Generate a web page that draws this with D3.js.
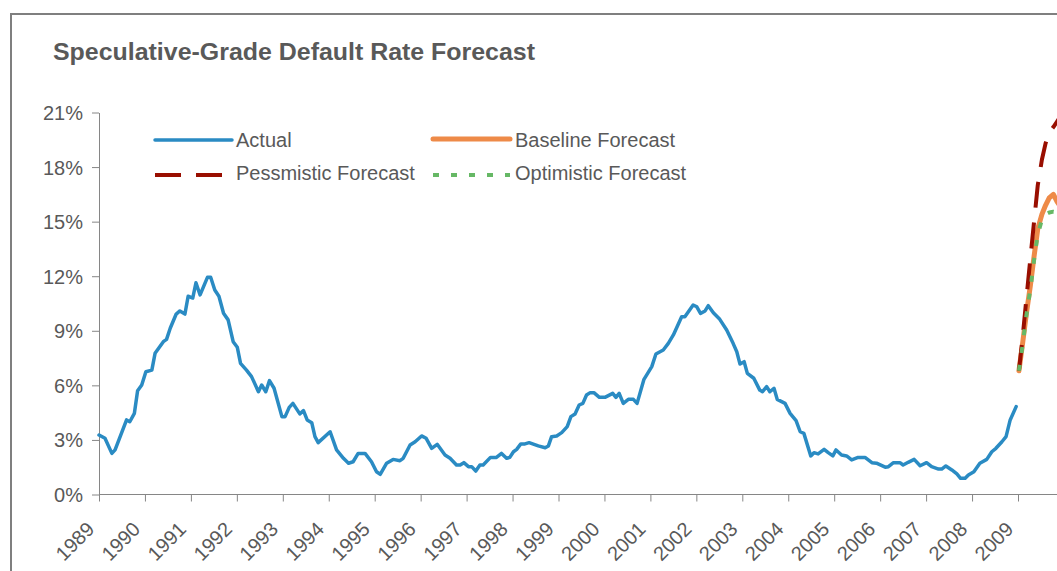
<!DOCTYPE html>
<html>
<head>
<meta charset="utf-8">
<script src="https://cdn.jsdelivr.net/npm/d3@7"></script>
<style>
  html, body { margin: 0; padding: 0; background: #ffffff; }
  svg { display: block; font-family: "Liberation Sans", Arial, sans-serif; }
</style>
</head>
<body>
<div id="chart"></div>
<script>
// ---- data ----
var yearTicks = [1989, 1990, 1991, 1992, 1993, 1994, 1995, 1996, 1997, 1998, 1999,
                 2000, 2001, 2002, 2003, 2004, 2005, 2006, 2007, 2008, 2009];
var rateTicks = [0, 3, 6, 9, 12, 15, 18, 21];

var actualDates = [
  1989.00, 1989.13, 1989.28, 1989.35, 1989.60, 1989.67, 1989.77, 1989.84, 1989.93,
  1990.02, 1990.15, 1990.22, 1990.40, 1990.47, 1990.55, 1990.68, 1990.76, 1990.87, 1990.94,
  1991.04, 1991.11, 1991.20, 1991.36, 1991.43, 1991.52, 1991.61, 1991.71, 1991.81, 1991.92,
  1992.01, 1992.08, 1992.21, 1992.32, 1992.47, 1992.54, 1992.63, 1992.71, 1992.81, 1992.98,
  1993.05, 1993.14, 1993.22, 1993.37, 1993.45, 1993.53, 1993.63, 1993.70, 1993.77,
  1994.03, 1994.17, 1994.32, 1994.43, 1994.53, 1994.64, 1994.79, 1994.93,
  1995.04, 1995.12, 1995.26, 1995.40, 1995.55, 1995.62, 1995.77, 1995.88,
  1996.02, 1996.12, 1996.24, 1996.36, 1996.53, 1996.64, 1996.78, 1996.86, 1996.94,
  1997.04, 1997.11, 1997.20, 1997.29, 1997.36, 1997.52, 1997.65, 1997.76, 1997.87, 1997.94,
  1998.02, 1998.09, 1998.18, 1998.27, 1998.36, 1998.56, 1998.71, 1998.78, 1998.85, 1998.96,
  1999.07, 1999.19, 1999.27, 1999.36, 1999.45, 1999.53, 1999.61, 1999.69, 1999.77, 1999.89,
  2000.01, 2000.18, 2000.25, 2000.32, 2000.41, 2000.52, 2000.63, 2000.71, 2000.86,
  2001.03, 2001.12, 2001.28, 2001.39, 2001.50, 2001.68, 2001.75, 2001.93,
  2002.01, 2002.09, 2002.19, 2002.26, 2002.37, 2002.51, 2002.66, 2002.80, 2002.88, 2002.95,
  2003.04, 2003.11, 2003.25, 2003.38, 2003.44, 2003.53, 2003.60, 2003.69, 2003.76, 2003.93,
  2004.04, 2004.17, 2004.26, 2004.34, 2004.49, 2004.56, 2004.65, 2004.78, 2004.87, 2004.97,
  2005.04, 2005.16, 2005.27, 2005.38, 2005.52, 2005.67, 2005.82, 2005.92,
  2006.11, 2006.18, 2006.29, 2006.43, 2006.50, 2006.61, 2006.74, 2006.87,
  2007.01, 2007.12, 2007.27, 2007.34, 2007.43, 2007.56, 2007.67, 2007.75, 2007.85, 2007.92,
  2008.04, 2008.17, 2008.32, 2008.43, 2008.52, 2008.65, 2008.74, 2008.83, 2008.96
];
var actualRates = [
  3.27, 3.09, 2.26, 2.45, 4.10, 4.00, 4.46, 5.70, 6.02,
  6.75, 6.84, 7.76, 8.40, 8.53, 9.14, 9.92, 10.09, 9.92, 10.90,
  10.80, 11.64, 10.97, 11.94, 11.94, 11.24, 10.90, 9.96, 9.60, 8.40,
  8.09, 7.21, 6.84, 6.48, 5.65, 6.02, 5.65, 6.26, 5.84, 4.28,
  4.28, 4.79, 5.01, 4.43, 4.61, 4.10, 3.95, 3.18, 2.85,
  3.45, 2.45, 1.99, 1.72, 1.80, 2.26, 2.26, 1.80,
  1.25, 1.11, 1.72, 1.93, 1.86, 1.99, 2.72, 2.90,
  3.22, 3.09, 2.54, 2.76, 2.17, 1.99, 1.62, 1.62, 1.75,
  1.53, 1.53, 1.29, 1.62, 1.62, 2.04, 2.04, 2.26, 1.99, 2.04,
  2.35, 2.48, 2.78, 2.78, 2.85, 2.67, 2.57, 2.67, 3.18, 3.22,
  3.40, 3.73, 4.28, 4.43, 4.92, 5.01, 5.47, 5.60, 5.60, 5.34,
  5.34, 5.56, 5.34, 5.56, 5.01, 5.23, 5.23, 5.01, 6.33,
  7.03, 7.72, 7.94, 8.31, 8.77, 9.77, 9.77, 10.42,
  10.32, 9.96, 10.09, 10.38, 9.99, 9.63, 9.04, 8.31, 7.85, 7.17,
  7.30, 6.66, 6.39, 5.74, 5.65, 5.93, 5.65, 5.84, 5.23, 5.01,
  4.46, 4.06, 3.45, 3.36, 2.12, 2.30, 2.23, 2.48, 2.30, 2.12,
  2.45, 2.17, 2.12, 1.90, 2.04, 2.04, 1.75, 1.72,
  1.50, 1.53, 1.75, 1.75, 1.62, 1.77, 1.93, 1.58,
  1.75, 1.53, 1.40, 1.40, 1.57, 1.35, 1.13, 0.89, 0.89, 1.07,
  1.25, 1.72, 1.93, 2.35, 2.54, 2.90, 3.18, 4.10, 4.83
];

var forecastDates = [2009.02, 2009.10, 2009.18, 2009.27, 2009.35, 2009.43,
                     2009.52, 2009.60, 2009.68, 2009.77, 2009.85, 2009.93];
var baselineRates    = [6.8, 8.3, 9.9, 11.5, 13.1, 14.6, 15.4, 15.9, 16.3, 16.5, 16.1, 15.8];
var pessimisticRates = [6.8, 8.6, 10.7, 13.0, 15.0, 17.0, 18.4, 19.3, 19.9, 20.2, 20.5, 20.8];
var optimisticRates  = [6.8, 8.2, 9.8, 11.3, 12.9, 14.3, 15.1, 15.4, 15.5, 15.55, 15.5, 15.4];

var seriesNames = ["Actual", "Baseline Forecast", "Pessmistic Forecast", "Optimistic Forecast"];

// ---- drawing ----
var width = 1057, height = 571;
var textColor = "#595959", axisColor = "#868686";

var svg = d3.select("#chart").append("svg")
    .attr("width", width)
    .attr("height", height);

svg.append("rect")
    .attr("width", width).attr("height", height)
    .attr("fill", "#ffffff");

// outer frame of the chart area (runs off the right/bottom edges)
svg.append("path")
    .attr("d", "M11,600 L11,14 L1100,14")
    .attr("fill", "none")
    .attr("stroke", "#7f7f7f")
    .attr("stroke-width", 2);

svg.append("text")
    .attr("x", 53).attr("y", 60)
    .attr("textLength", 482)
    .attr("lengthAdjust", "spacingAndGlyphs")
    .style("font-size", "23px")
    .style("font-weight", "bold")
    .style("fill", textColor)
    .text("Speculative-Grade Default Rate Forecast");

var x = d3.scaleLinear().domain([1989, 2009]).range([99, 1018]);
var y = d3.scaleLinear().domain([0, 21]).range([494.5, 112.5]);

// y axis
var yAxis = svg.append("g")
    .attr("transform", "translate(99,0)")
    .call(d3.axisLeft(y)
        .tickValues(rateTicks)
        .tickFormat(d => d + "%")
        .tickSize(7)
        .tickSizeOuter(0)
        .tickPadding(9));
yAxis.selectAll("path, line").attr("stroke", axisColor);
yAxis.selectAll("text")
    .style("font-size", "20px")
    .style("font-family", "'Liberation Sans', Arial, sans-serif")
    .style("fill", textColor)
    .attr("dy", "0.35em");

// x axis
var xAxis = svg.append("g")
    .attr("transform", "translate(0,494.5)")
    .call(d3.axisBottom(x)
        .tickValues(yearTicks)
        .tickFormat(d3.format("d"))
        .tickSize(7)
        .tickSizeOuter(0));
xAxis.select(".domain").remove();
xAxis.append("line")
    .attr("x1", 99).attr("x2", width + 10)
    .attr("stroke", axisColor);
xAxis.selectAll("line").attr("stroke", axisColor);
xAxis.selectAll("text")
    .attr("x", 0).attr("y", 0).attr("dy", 0)
    .attr("text-anchor", "end")
    .attr("transform", "translate(-4,36) rotate(-45)")
    .style("font-size", "20px")
    .style("font-family", "'Liberation Sans', Arial, sans-serif")
    .style("fill", textColor);

// lines
function pts(dates, vals) {
    return dates.map((d, i) => [d, vals[i]]);
}
var line = d3.line().x(d => x(d[0])).y(d => y(d[1]));

var styles = [
    { color: "#2a8bc3", width: 3.5, dash: null,   cap: "round" },
    { color: "#ee8a48", width: 5,   dash: null,   cap: "round" },
    { color: "#990e00", width: 4,   dash: "26,15", cap: "butt" },
    { color: "#66b865", width: 4,   dash: "6,12", cap: "butt" }
];
var seriesData = [
    pts(actualDates, actualRates),
    pts(forecastDates, baselineRates),
    pts(forecastDates, pessimisticRates),
    pts(forecastDates, optimisticRates)
];

var plot = svg.append("g");
seriesData.forEach((data, i) => {
    plot.append("path")
        .datum(data)
        .attr("d", line)
        .attr("fill", "none")
        .attr("stroke", styles[i].color)
        .attr("stroke-width", styles[i].width)
        .attr("stroke-linejoin", "round")
        .attr("stroke-linecap", styles[i].cap)
        .attr("stroke-dasharray", styles[i].dash);
});

// legend: two columns, two rows
var legendPos = [
    { lx: 155, ly: 140, tx: 236, ty: 147 },
    { lx: 433, ly: 139, tx: 515, ty: 147 },
    { lx: 155, ly: 175, tx: 236, ty: 180 },
    { lx: 433, ly: 175, tx: 515, ty: 180 }
];
var legend = svg.append("g");
seriesNames.forEach((name, i) => {
    var p = legendPos[i];
    legend.append("line")
        .attr("x1", p.lx).attr("x2", p.lx + 77)
        .attr("y1", p.ly).attr("y2", p.ly)
        .attr("stroke", styles[i].color)
        .attr("stroke-width", styles[i].width)
        .attr("stroke-linecap", styles[i].cap)
        .attr("stroke-dasharray", styles[i].dash);
    legend.append("text")
        .attr("x", p.tx).attr("y", p.ty)
        .style("font-size", "20px")
        .style("fill", textColor)
        .text(name);
});
</script>
</body>
</html>
